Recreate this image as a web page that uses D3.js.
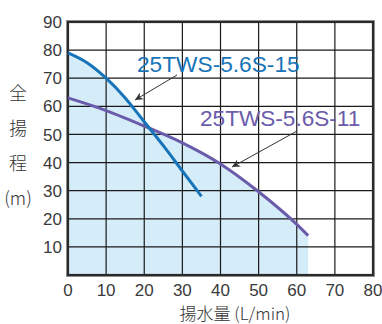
<!DOCTYPE html>
<html><head><meta charset="utf-8">
<script src="https://cdn.jsdelivr.net/npm/d3@7"></script>
<style>body{margin:0;background:#fff}svg{display:block}</style>
</head><body><svg id="c" width="382" height="324"></svg>
<script>
const xTicks = [0,10,20,30,40,50,60,70,80];
const yTicks = [10,20,30,40,50,60,70,80,90];
const flow15 = [0,5,10,15,20,25,30,35];
const head15 = [79,75.5,70,63,54.5,46,37,28];
const flow11 = [0,10,20,30,40,50,60,63];
const head11 = [63,58.5,53,47,39.5,29.6,18,14];
const label15 = "25TWS-5.6S-15";
const label11 = "25TWS-5.6S-11";
const yTitle = ["全","揚","程","(m)"];
const xTitle = "揚水量 (L/min)";

const svg = d3.select("#c");
const L=68,T=22,R=373,B=275;
const x = d3.scaleLinear().domain([0,80]).range([L,R]);
const y = d3.scaleLinear().domain([0,90]).range([B,T]);
const d15 = flow15.map((f,i)=>[f,head15[i]]);
const d11 = flow11.map((f,i)=>[f,head11[i]]);
const fillC="#d5ecf9", blue="#1874b8", purple="#6a5bab";

const area = d3.area().x(d=>x(d[0])).y0(y(0)).y1(d=>y(d[1])).curve(d3.curveMonotoneX);
svg.append("path").attr("d",area(d11)).attr("fill",fillC);
svg.append("path").attr("d",area(d15)).attr("fill",fillC);

// grid
svg.append("g").selectAll("line").data(xTicks.slice(1,-1)).join("line")
  .attr("x1",d=>x(d)).attr("x2",d=>x(d)).attr("y1",T).attr("y2",B)
  .attr("stroke","#1a1a1a").attr("stroke-width",1.2);
svg.append("g").selectAll("line").data(yTicks.slice(0,-1)).join("line")
  .attr("x1",L).attr("x2",R).attr("y1",d=>y(d)).attr("y2",d=>y(d))
  .attr("stroke","#1a1a1a").attr("stroke-width",1.2);

// frame
svg.append("rect").attr("x",L-1.5).attr("y",T-1.5).attr("width",R-L+3).attr("height",B-T+3)
  .attr("fill","none").attr("stroke","#999").attr("stroke-width",1);
svg.append("rect").attr("x",L).attr("y",T).attr("width",R-L).attr("height",B-T)
  .attr("fill","none").attr("stroke","#2a2a2a").attr("stroke-width",2.2);

const line = d3.line().x(d=>x(d[0])).y(d=>y(d[1])).curve(d3.curveMonotoneX);
svg.append("path").attr("d",line(d11)).attr("fill","none").attr("stroke",purple).attr("stroke-width",3);
svg.append("path").attr("d",line(d15)).attr("fill","none").attr("stroke",blue).attr("stroke-width",3);

// axes labels
const font = "'Liberation Sans', Arial, sans-serif";
svg.append("g").selectAll("text").data(yTicks).join("text")
  .attr("x",L-6).attr("y",d=>y(d)).attr("dy","0.36em").attr("text-anchor","end")
  .attr("font-family",font).attr("font-size",17).attr("fill","#3a3a3a").text(d=>d);
svg.append("g").selectAll("text").data(xTicks).join("text")
  .attr("x",d=>x(d)).attr("y",B+21).attr("text-anchor","middle")
  .attr("font-family",font).attr("font-size",17).attr("fill","#3a3a3a").text(d=>d);

const cjk = "'Noto Sans CJK JP', 'Noto Sans', sans-serif";
svg.append("g").selectAll("text").data(yTitle).join("text")
  .attr("x",18).attr("y",(d,i)=>100+i*35).attr("text-anchor","middle")
  .attr("font-family",cjk).attr("font-size",18).attr("font-weight",300).attr("fill","#333").text(d=>d);
svg.append("text").attr("x",235).attr("y",320).attr("text-anchor","middle")
  .attr("font-family",cjk).attr("font-size",17).attr("font-weight",300).attr("fill","#333").text(xTitle);

// labels
svg.append("text").attr("x",137).attr("y",72).attr("font-family",font).attr("font-size",22.7)
  .attr("fill",blue).text(label15);
svg.append("text").attr("x",200).attr("y",126).attr("font-family",font).attr("font-size",22.6)
  .attr("fill",purple).text(label11);

svg.append("defs").append("marker").attr("id","ah").attr("viewBox","0 0 10 10")
  .attr("refX",10).attr("refY",5).attr("markerWidth",8).attr("markerHeight",8)
  .attr("orient","auto").attr("markerUnits","userSpaceOnUse")
  .append("path").attr("d","M0,0 L10,5 L0,10 L3,5 Z").attr("fill","#333");
svg.append("line").attr("x1",177).attr("y1",75).attr("x2",135).attr("y2",100)
  .attr("stroke","#333").attr("stroke-width",1).attr("marker-end","url(#ah)");
svg.append("line").attr("x1",297).attr("y1",131).attr("x2",232).attr("y2",167)
  .attr("stroke","#333").attr("stroke-width",1).attr("marker-end","url(#ah)");
</script></body></html>
